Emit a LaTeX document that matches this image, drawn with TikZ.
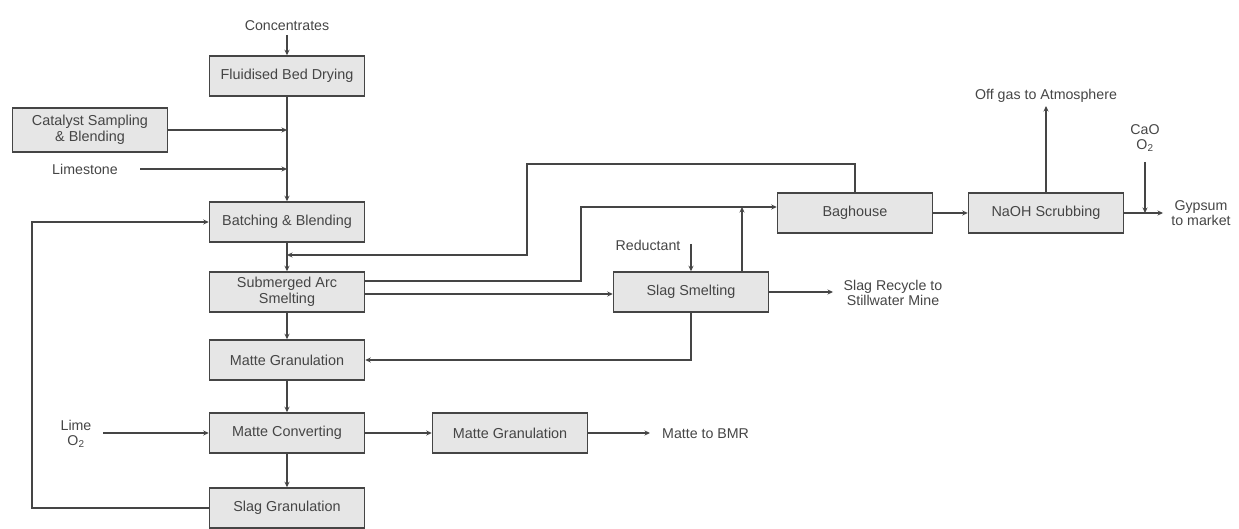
\documentclass[tikz,border=0pt]{standalone}
\usepackage{fontspec}
\setmainfont{Liberation Sans}
\usetikzlibrary{arrows.meta}
\definecolor{boxfill}{HTML}{E6E6E6}
\definecolor{linec}{HTML}{454545}
\definecolor{textc}{HTML}{454545}
\begin{document}
\begin{tikzpicture}[x=1pt,y=-1pt,
 proc/.style={draw=linec, fill=boxfill, line width=1.5pt, minimum width=155pt, minimum height=40pt, inner sep=0pt, font=\fontsize{14.4}{15.5}\selectfont, text=textc, align=center},
 lbl/.style={font=\fontsize{14.2}{15.5}\selectfont, text=textc, align=center, inner sep=1pt},
 flow/.style={draw=linec, line width=1.6pt, -{Stealth[length=5.5pt,width=5pt]}}]
\useasboundingbox (0,0) rectangle (1239,529);
% process boxes
\node[proc] (fbd) at (287,76) {Fluidised Bed Drying};
\node[proc, minimum height=44pt] (cat) at (90,130) {Catalyst Sampling\\\& Blending};
\node[proc] (bb) at (287,222) {Batching \& Blending};
\node[proc] (sas) at (287,292) {Submerged Arc\\Smelting};
\node[proc] (mg1) at (287,360) {Matte Granulation};
\node[proc] (mc) at (287,433) {Matte Converting};
\node[proc] (sg) at (287,508) {Slag Granulation};
\node[proc] (mg2) at (510,433) {Matte Granulation};
\node[proc] (ss) at (691,292) {Slag Smelting};
\node[proc] (bh) at (855,213) {Baghouse};
\node[proc] (naoh) at (1046,213) {NaOH Scrubbing};
% labels
\node[lbl] (conc) at (287,26) {Concentrates};
\node[lbl] (lime) at (85,169) {Limestone};
\node[lbl] (red) at (648,245) {Reductant};
\node[lbl] (slagrec) at (893,293) {Slag Recycle to\\Stillwater Mine};
\node[lbl] (offgas) at (1046,96) {Off gas to Atmosphere};
\node[lbl] (cao) at (1145,138) {CaO\\O\textsubscript{2}};
\node[lbl] (gyp) at (1201,213) {Gypsum\\to market};
\node[lbl] (limeo) at (76,434) {Lime\\O\textsubscript{2}};
\node[lbl, anchor=west] (bmr) at (661,434) {Matte to BMR};
% coordinates
\coordinate (j1) at (287,130);
\coordinate (j2) at (287,169);
\coordinate (ls) at (140,169);
\coordinate (lp) at (32,508);
\coordinate (c1) at (527,164);
\coordinate (c2) at (287,255);
\coordinate (c3) at (581,207);
\coordinate (c4) at (742,207);
\coordinate (c5) at (691,244);
\coordinate (c6) at (103,433);
\coordinate (c7) at (1145,162);
\coordinate (c8) at (1145,213);
\coordinate (sr) at (833,292);
\coordinate (mb) at (650,433);
\coordinate (gp) at (1163,213);
\coordinate (og) at (1046,106);
\coordinate (cs) at (287,35);
% connectors
\draw[flow] (cs) -- (fbd.north);
\draw[flow] (fbd.south) -- (bb.north);
\draw[flow] (cat.east) -- (j1);
\draw[flow] (ls) -- (j2);
\draw[flow] (sg.west) -- (lp) |- (bb.west);
\draw[flow] (bb.south) -- (sas.north);
\draw[flow] (bh.north) |- (c1) |- (c2);
\draw[flow] ([yshift=11pt]sas.east) -| (c3) -- ([yshift=6pt]bh.west);
\draw[flow] ([xshift=51pt]ss.north) -- (c4);
\draw[flow] ([yshift=-2pt]sas.east) -- ([yshift=-2pt]ss.west);
\draw[flow] (c5) -- (ss.north);
\draw[flow] (ss.east) -- (sr);
\draw[flow] (ss.south) |- (mg1.east);
\draw[flow] (sas.south) -- (mg1.north);
\draw[flow] (mg1.south) -- (mc.north);
\draw[flow] (c6) -- (mc.west);
\draw[flow] (mc.east) -- (mg2.west);
\draw[flow] (mg2.east) -- (mb);
\draw[flow] (mc.south) -- (sg.north);
\draw[flow] (bh.east) -- (naoh.west);
\draw[flow] (naoh.north) -- (og);
\draw[flow] (naoh.east) -- (gp);
\draw[flow] (c7) -- (c8);
\end{tikzpicture}
\end{document}
